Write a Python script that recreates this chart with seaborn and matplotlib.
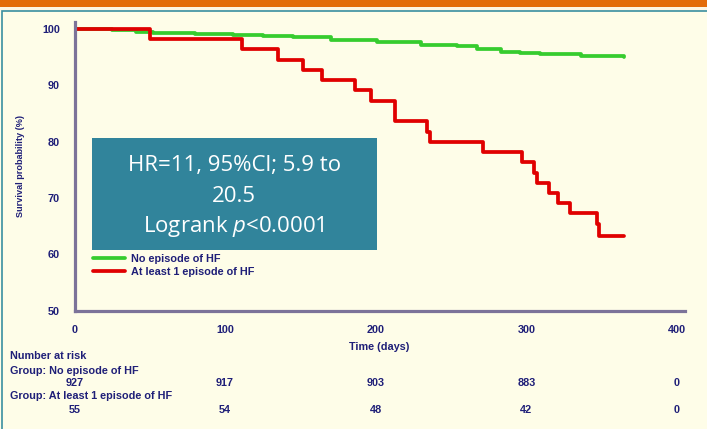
import pandas as pd
import matplotlib.pyplot as plt
import seaborn as sns
from matplotlib.patches import Rectangle

# Kaplan-Meier curves (time in days, survival in %)
no_hf_days = [0, 25, 41, 52, 80, 105, 125, 145, 170, 201, 230, 254, 267, 283, 296, 309, 336, 365]
no_hf_surv = [100, 99.9, 99.5, 99.3, 99.1, 98.9, 98.7, 98.5, 98.1, 97.6, 97.2, 96.9, 96.4, 96.0, 95.8, 95.6, 95.2, 95.0]

hf_days = [0, 50, 111, 135, 152, 164, 186, 197, 213, 234, 236, 271, 297, 305, 307, 315, 321, 329, 347, 348, 365]
hf_surv = [100, 98.2, 96.4, 94.5, 92.7, 90.9, 89.1, 87.3, 83.6, 81.8, 80.0, 78.2, 76.4, 74.5, 72.7, 70.9, 69.1, 67.3, 65.4, 63.3, 63.3]

groups = ["No episode of HF", "At least 1 episode of HF"]
colors = ["#36CC2E", "#E00000"]

# number at risk table
risk_times = [0, 100, 200, 300, 400]
risk_no_hf = [927, 917, 903, 883, 0]
risk_hf = [55, 54, 48, 42, 0]

df = pd.concat([
    pd.DataFrame({"Time": no_hf_days, "Survival": no_hf_surv, "Group": groups[0]}),
    pd.DataFrame({"Time": hf_days, "Survival": hf_surv, "Group": groups[1]}),
], ignore_index=True)

sns.set_style("white")
plt.rcParams["font.family"] = ["Liberation Sans", "DejaVu Sans"]
plt.rcParams["mathtext.fontset"] = "custom"
plt.rcParams["mathtext.rm"] = "Open Sans"
plt.rcParams["mathtext.it"] = "Open Sans:italic"

navy = "#1F1F78"
axis_col = "#7C7399"
cream = "#FEFDE8"
W, H = 707, 429
fs = 7.8

fig = plt.figure(figsize=(7.07, 4.29), dpi=100, facecolor=cream)

# slide decoration: orange header strip and teal frame
fig.patches.append(Rectangle((0, 1 - 7 / H), 1, 7 / H, transform=fig.transFigure,
                             facecolor="#E36C0A", edgecolor="none", zorder=0))
fig.patches.append(Rectangle((0, 1 - 11 / H), 1, 4 / H, transform=fig.transFigure,
                             facecolor="#FDF6E4", edgecolor="none", zorder=0))
fig.patches.append(Rectangle((1.5 / W, -0.1), 1.1, 1.1 - 11 / H, transform=fig.transFigure,
                             facecolor="none", edgecolor="#3A8FA0", linewidth=1.2, zorder=0))

ax = fig.add_axes([74.5 / W, (H - 310.7) / H, 610 / W, 288.5 / H])
ax.set_facecolor(cream)

sns.lineplot(data=df, x="Time", y="Survival", hue="Group", palette=colors,
             estimator=None, sort=False, drawstyle="steps-post",
             linewidth=2.7, ax=ax)

ax.set_xlim(0, 405)
ax.set_ylim(50, 101.2)
ax.set_xticks(risk_times)
ax.set_xticks([50, 150, 250, 350], minor=True)
ax.set_yticks([50, 60, 70, 80, 90, 100])

for s in ["top", "right"]:
    ax.spines[s].set_visible(False)
for s in ["left", "bottom"]:
    ax.spines[s].set_color(axis_col)
    ax.spines[s].set_linewidth(2.3)

ax.tick_params(axis="x", which="major", direction="out", length=7, width=1.8,
               color=axis_col, labelsize=fs, labelcolor=navy, pad=3)
ax.tick_params(axis="x", which="minor", direction="out", length=3.6, width=1.5, color=axis_col)
ax.tick_params(axis="y", direction="out", length=8, width=1.8,
               color=axis_col, labelsize=fs, labelcolor=navy, pad=2.5)
for lab in ax.get_xticklabels() + ax.get_yticklabels():
    lab.set_fontweight("bold")

ax.set_xlabel("Time (days)", fontsize=fs, fontweight="bold", color=navy, labelpad=5)
ax.set_ylabel("Survival probability (%)", fontsize=6.6, fontweight="bold", color=navy, labelpad=12)

handles, labels = ax.get_legend_handles_labels()
leg = ax.legend(handles, labels, loc="upper left", bbox_to_anchor=(0.031, 0.197),
                frameon=False, fontsize=fs, handlelength=2.9, handletextpad=0.55,
                labelspacing=0.3, borderpad=0, borderaxespad=0)
for t in leg.get_texts():
    t.set_color(navy)
    t.set_fontweight("bold")

# HR annotation box
ax.add_patch(Rectangle((11.6, 60.7), 189.1, 19.9, facecolor="#31849B", edgecolor="none", zorder=5))
box_font = dict(ha="center", va="center", color="white", fontsize=16, family="Open Sans", zorder=6)
ax.text(106, 100 - (165 - 29) / 5.63, "HR=11, 95%Cl; 5.9 to", **box_font)
ax.text(106, 100 - (196.7 - 29) / 5.63, "20.5", **box_font)
ax.text(106, 100 - (226.7 - 29) / 5.63, "Logrank $p$<0.0001", **box_font)

# number at risk
small = dict(fontsize=fs, fontweight="bold", color=navy)
fig.text(10 / W, 1 - 356 / H, "Number at risk", va="center", **small)
fig.text(10 / W, 1 - 370.7 / H, "Group: No episode of HF", va="center", **small)
fig.text(10 / W, 1 - 396 / H, "Group: At least 1 episode of HF", va="center", **small)
for t, a, b in zip(risk_times, risk_no_hf, risk_hf):
    xf = (74.5 + t * 1.506) / W
    fig.text(xf, 1 - 383.3 / H, str(a), ha="center", va="center", **small)
    fig.text(xf, 1 - 410 / H, str(b), ha="center", va="center", **small)

plt.savefig("out.png", dpi=100, facecolor=cream)
